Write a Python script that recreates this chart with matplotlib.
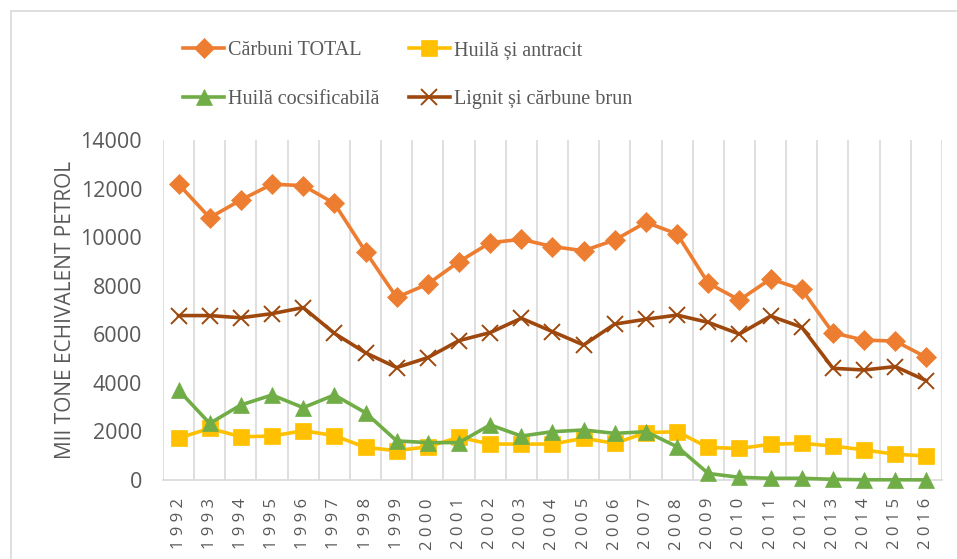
import numpy as np
import matplotlib
matplotlib.use("Agg")
import matplotlib.pyplot as plt
from matplotlib.patches import Rectangle

# data (mii tone echivalent petrol)
years = list(range(1992, 2017))
total = [12180, 10800, 11530, 12180, 12120, 11390, 9400, 7520, 8070, 8990,
         9770, 9910, 9610, 9440, 9880, 10610, 10130, 8100, 7410, 8280,
         7850, 6060, 5760, 5720, 5050]
huila_antracit = [1720, 2130, 1780, 1810, 2030, 1830, 1340, 1210, 1370, 1760,
                  1480, 1480, 1480, 1720, 1510, 1950, 1990, 1340, 1300, 1470,
                  1510, 1400, 1240, 1060, 990]
huila_cocs = [3700, 2330, 3090, 3500, 2980, 3500, 2770, 1610, 1540, 1540,
              2270, 1810, 1990, 2060, 1920, 1990, 1370, 270, 110, 70,
              70, 30, 10, 10, 5]
lignit = [6770, 6770, 6680, 6850, 7100, 6040, 5240, 4630, 5040, 5740,
          6070, 6660, 6110, 5560, 6420, 6620, 6790, 6490, 6010, 6750,
          6290, 4600, 4530, 4670, 4090]

labels = ["Cărbuni TOTAL", "Huilă și antracit", "Huilă cocsificabilă",
          "Lignit și cărbune brun"]
colors = ["#ED7D31", "#FFC000", "#70AD47", "#9E480E"]
y_ticks = [0, 2000, 4000, 6000, 8000, 10000, 12000, 14000]

GRAY = "#595959"
TICK_FONT = ["Open Sans", "DejaVu Sans"]

fig = plt.figure(figsize=(9.57, 5.59), dpi=100)
ax = fig.add_axes([0.1703, 0.1413, 0.8140, 0.6083])

# chart border
fig.patches.append(Rectangle((11 / 957, -0.1), 1.2, 1.1 - 11 / 559,
                             transform=fig.transFigure, fill=False,
                             edgecolor="#d9d9d9", linewidth=1.2))

x = np.arange(len(years))
series = [total, huila_antracit, huila_cocs, lignit]
markers = ["D", "s", "^", "x"]
msizes = [10, 11, 11, 11]
handles = []
for vals, lab, col, mk, ms in zip(series, labels, colors, markers, msizes):
    (h,) = ax.plot(x, vals, color=col, lw=2.6, marker=mk, ms=ms,
                   markeredgewidth=1.4 if mk == "x" else 0.5,
                   markeredgecolor=col, label=lab, clip_on=False, zorder=3)
    handles.append(h)

ax.set_xlim(-0.5, len(years) - 0.5)
ax.set_ylim(0, 14000)
ax.set_yticks(y_ticks)
ax.set_yticklabels([str(v) for v in y_ticks], fontsize=15.5, color=GRAY,
                   family=TICK_FONT)
ax.set_xticks(x)
ax.set_xticklabels([" ".join(str(y)) for y in years], rotation=90,
                   fontsize=12, color=GRAY, family=TICK_FONT)
ax.tick_params(axis="both", length=0)
ax.tick_params(axis="x", pad=13)
ax.tick_params(axis="y", pad=15)

for b in np.arange(-0.5, len(years), 1.0):
    ax.axvline(b, color="#d9d9d9", lw=1.2, zorder=1)
for s in ["top", "right", "left"]:
    ax.spines[s].set_visible(False)
ax.spines["bottom"].set_color("#d9d9d9")
ax.spines["bottom"].set_linewidth(1.2)

ax.set_ylabel("MII TONE ECHIVALENT PETROL", fontsize=15, color=GRAY,
              family=TICK_FONT, labelpad=3)

leg_handles = [handles[0], handles[2], handles[1], handles[3]]
leg_labels = [labels[0], labels[2], labels[1], labels[3]]
fig.legend(leg_handles, leg_labels, loc="center", ncol=2,
           bbox_to_anchor=(0.426, 0.866), frameon=False,
           prop={"family": "Liberation Serif", "size": 14.5},
           labelcolor=GRAY, handlelength=2.0, handletextpad=0.2,
           columnspacing=1.5, labelspacing=1.45)

fig.savefig("out.png", dpi=100)
